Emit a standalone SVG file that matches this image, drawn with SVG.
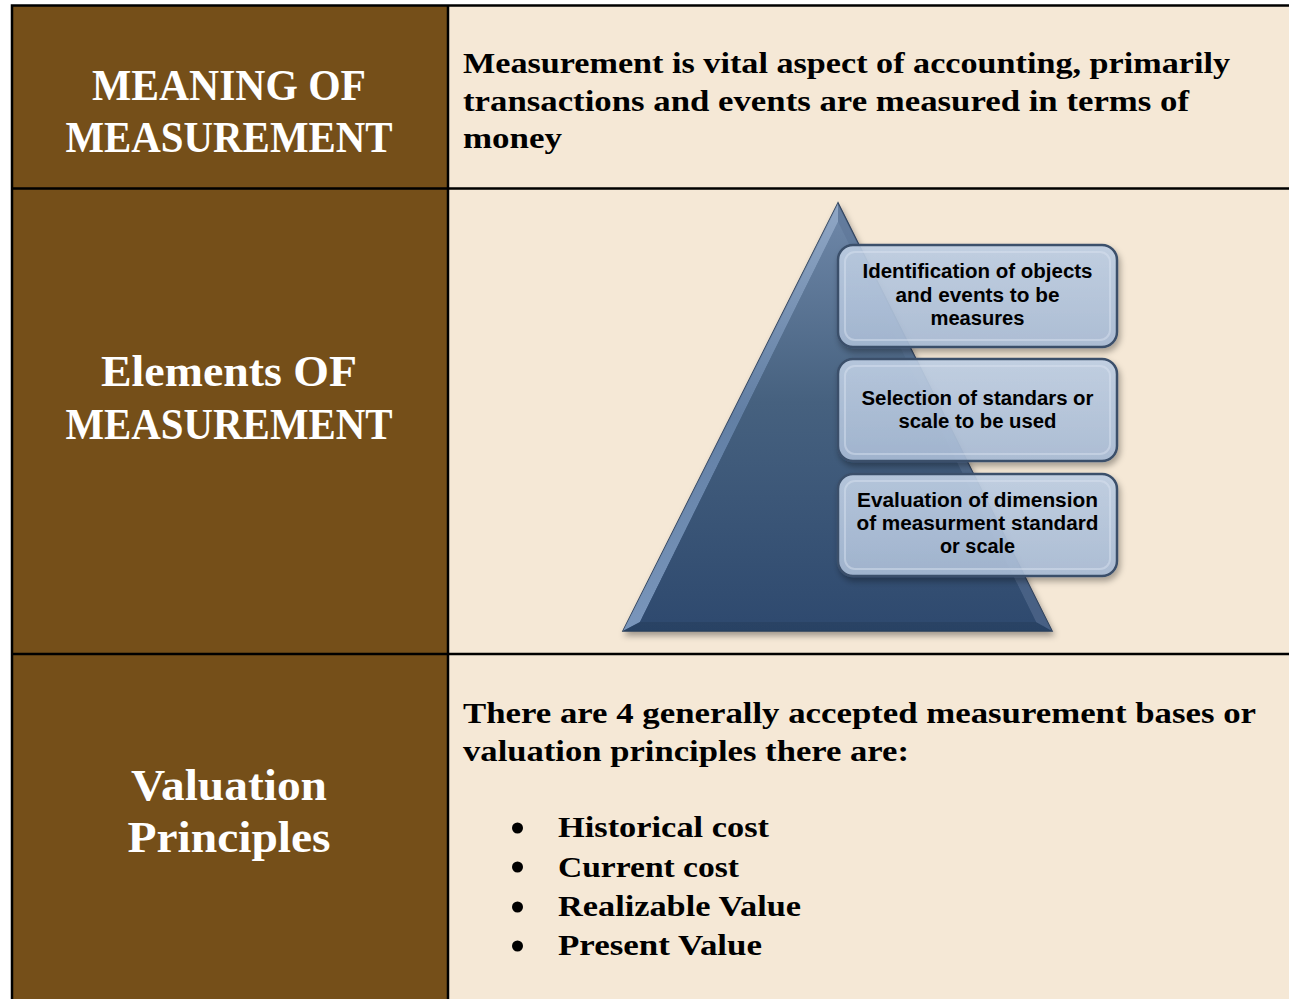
<svg xmlns="http://www.w3.org/2000/svg" width="1289" height="999" viewBox="0 0 1289 999">
<defs>
<style>
.hdr{font-family:"Liberation Serif","Times New Roman",serif;font-weight:bold;font-size:44px;fill:#ffffff;}
.body{font-family:"Liberation Serif","Times New Roman",serif;font-weight:bold;font-size:30px;fill:#000000;}
.bx{font-family:"Liberation Sans",Arial,sans-serif;font-weight:bold;font-size:20px;fill:#000000;}
.box{fill:url(#boxg);stroke:#3b4f6b;stroke-width:2.5;}
.boxin{fill:none;stroke:#dbe5f2;stroke-opacity:0.45;stroke-width:2;}
.grid{stroke:#000000;stroke-width:2.5;fill:none;}
</style>
<linearGradient id="pyr" x1="0" y1="0" x2="0" y2="1">
<stop offset="0" stop-color="#6c85a6"/>
<stop offset="0.45" stop-color="#46617f"/>
<stop offset="1" stop-color="#2f4a6f"/>
</linearGradient>
<linearGradient id="bevL" x1="0" y1="0" x2="0" y2="1">
<stop offset="0" stop-color="#9fb5d2"/>
<stop offset="0.5" stop-color="#6f8db5"/>
<stop offset="1" stop-color="#9ab7dc"/>
</linearGradient>
<linearGradient id="boxg" x1="0" y1="0" x2="0" y2="1">
<stop offset="0" stop-color="#c0d0e5" stop-opacity="0.9"/>
<stop offset="1" stop-color="#aabdd7" stop-opacity="0.9"/>
</linearGradient>
<filter id="sh" x="-10%" y="-10%" width="120%" height="130%">
<feDropShadow dx="2" dy="4" stdDeviation="3" flood-color="#000" flood-opacity="0.35"/>
</filter>
</defs>

<g id="table">
<rect x="11" y="5" width="437" height="994" fill="#754f19"/>
<rect x="448" y="5" width="841" height="994" fill="#f5e8d6"/>
<path class="grid" d="M12 999 V5.5 H1289 M448 5 V999 M11 188.5 H1289 M11 654 H1289"/>
</g>

<g id="hdr-meaning">
<text class="hdr" x="229" y="100" text-anchor="middle" textLength="274" lengthAdjust="spacingAndGlyphs">MEANING OF</text>
<text class="hdr" x="229" y="152" text-anchor="middle" textLength="327" lengthAdjust="spacingAndGlyphs">MEASUREMENT</text>
</g>
<g id="hdr-elements">
<text class="hdr" x="229" y="386" text-anchor="middle" textLength="256" lengthAdjust="spacingAndGlyphs">Elements OF</text>
<text class="hdr" x="229" y="439" text-anchor="middle" textLength="327" lengthAdjust="spacingAndGlyphs">MEASUREMENT</text>
</g>
<g id="hdr-valuation">
<text class="hdr" x="229" y="800" text-anchor="middle" textLength="196" lengthAdjust="spacingAndGlyphs">Valuation</text>
<text class="hdr" x="229" y="852" text-anchor="middle" textLength="203" lengthAdjust="spacingAndGlyphs">Principles</text>
</g>

<g id="meaning-text">
<text class="body" x="463" y="73" textLength="767" lengthAdjust="spacingAndGlyphs">Measurement is vital aspect of accounting, primarily</text>
<text class="body" x="463" y="111" textLength="726" lengthAdjust="spacingAndGlyphs">transactions and events are measured in terms of</text>
<text class="body" x="463" y="148" textLength="99" lengthAdjust="spacingAndGlyphs">money</text>
</g>

<g id="pyramid">
<polygon points="838,203 623,631 1052,631" fill="url(#pyr)" stroke="#2a3d58" stroke-width="1.5" filter="url(#sh)"/>
<polygon points="838,203 623,631 640,622 838,222" fill="url(#bevL)" opacity="0.7"/>
<polygon points="623,631 1052,631 1036,622 640,622" fill="#27405f" opacity="0.7"/>
<polygon points="838,203 1052,631 1036,622 838,222" fill="#5d7698" opacity="0.5"/>
<polygon points="838,222 640,622 1036,622" fill="url(#pyr)"/>
</g>

<g id="box1">
<rect class="box" x="838" y="245" width="279" height="102" rx="15" filter="url(#sh)"/>
<rect class="boxin" x="845" y="252" width="265" height="88" rx="10"/>
<text class="bx" x="977.5" y="278" text-anchor="middle" textLength="230" lengthAdjust="spacingAndGlyphs">Identification of objects</text>
<text class="bx" x="977.5" y="302" text-anchor="middle" textLength="164" lengthAdjust="spacingAndGlyphs">and events to be</text>
<text class="bx" x="977.5" y="325" text-anchor="middle" textLength="94" lengthAdjust="spacingAndGlyphs">measures</text>
</g>
<g id="box2">
<rect class="box" x="838" y="359" width="279" height="102" rx="15" filter="url(#sh)"/>
<rect class="boxin" x="845" y="366" width="265" height="88" rx="10"/>
<text class="bx" x="977.5" y="405" text-anchor="middle" textLength="232" lengthAdjust="spacingAndGlyphs">Selection of standars or</text>
<text class="bx" x="977.5" y="428" text-anchor="middle" textLength="158" lengthAdjust="spacingAndGlyphs">scale to be used</text>
</g>
<g id="box3">
<rect class="box" x="838" y="474" width="279" height="102" rx="15" filter="url(#sh)"/>
<rect class="boxin" x="845" y="481" width="265" height="88" rx="10"/>
<text class="bx" x="977.5" y="507" text-anchor="middle" textLength="241" lengthAdjust="spacingAndGlyphs">Evaluation of dimension</text>
<text class="bx" x="977.5" y="530" text-anchor="middle" textLength="242" lengthAdjust="spacingAndGlyphs">of measurment standard</text>
<text class="bx" x="977.5" y="553" text-anchor="middle" textLength="75" lengthAdjust="spacingAndGlyphs">or scale</text>
</g>

<g id="valuation-text">
<text class="body" x="463" y="723" textLength="793" lengthAdjust="spacingAndGlyphs">There are 4 generally accepted measurement bases or</text>
<text class="body" x="463" y="761" textLength="446" lengthAdjust="spacingAndGlyphs">valuation principles there are:</text>
<circle cx="517.5" cy="828" r="5.5"/>
<circle cx="517.5" cy="867" r="5.5"/>
<circle cx="517.5" cy="907" r="5.5"/>
<circle cx="517.5" cy="946" r="5.5"/>
<text class="body" x="558" y="837" textLength="211" lengthAdjust="spacingAndGlyphs">Historical cost</text>
<text class="body" x="558" y="877" textLength="181" lengthAdjust="spacingAndGlyphs">Current cost</text>
<text class="body" x="558" y="916" textLength="243" lengthAdjust="spacingAndGlyphs">Realizable Value</text>
<text class="body" x="558" y="955" textLength="204" lengthAdjust="spacingAndGlyphs">Present Value</text>
</g>
<g id="connectors"/>
</svg>
